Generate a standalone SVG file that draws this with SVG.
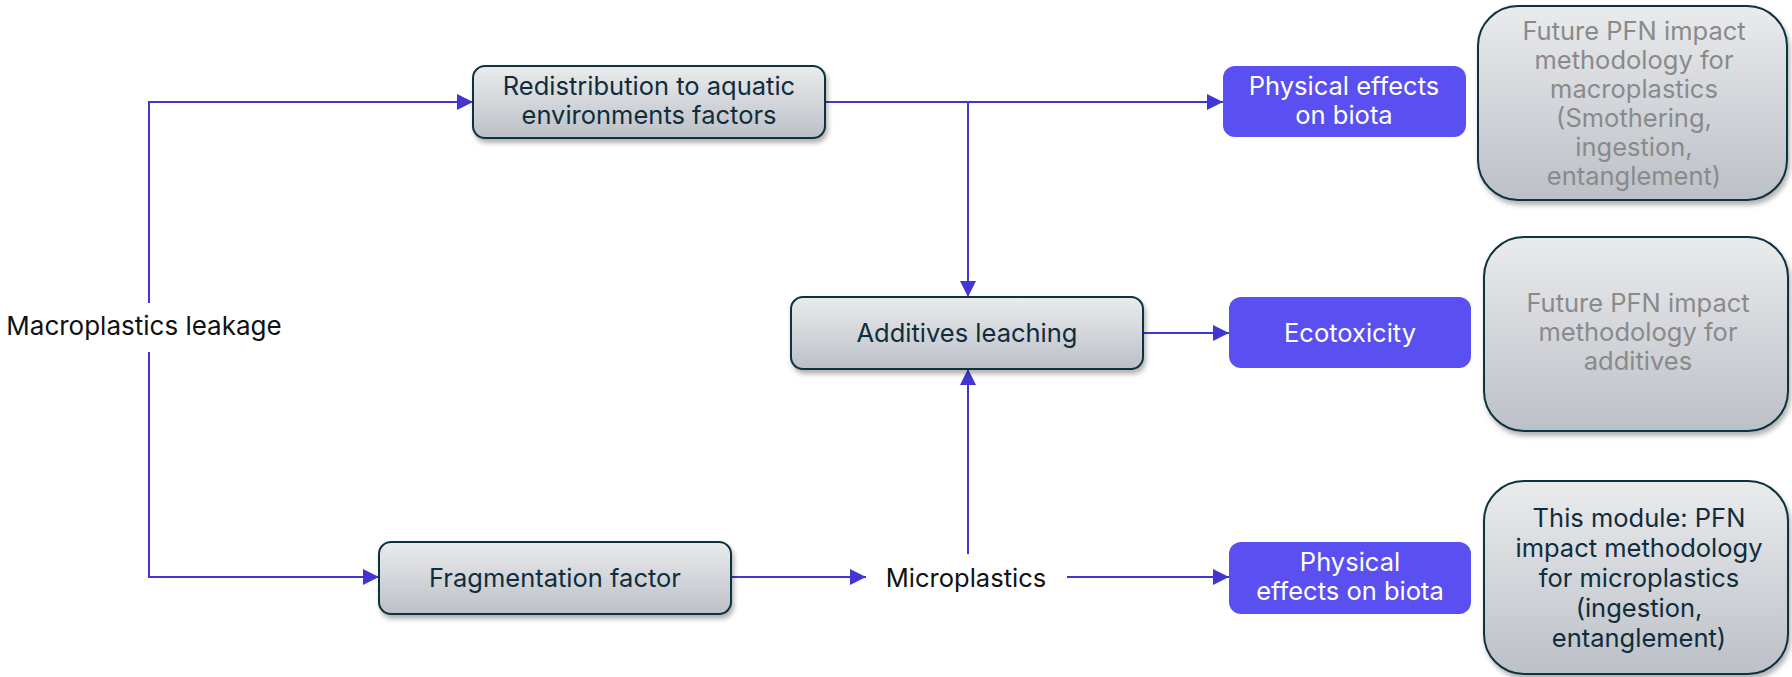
<svg xmlns="http://www.w3.org/2000/svg" width="1792" height="677" viewBox="0 0 1792 677">
<defs>
<linearGradient id="gbox" x1="0" y1="0" x2="0" y2="1">
<stop offset="0" stop-color="#eaebed"/>
<stop offset="1" stop-color="#bcc0c7"/>
</linearGradient>
<filter id="sh" x="-10%" y="-10%" width="130%" height="140%">
<feDropShadow dx="2" dy="4" stdDeviation="2.5" flood-color="#000" flood-opacity="0.3"/>
</filter>
<marker id="ah" markerUnits="userSpaceOnUse" markerWidth="16" markerHeight="16" viewBox="0 0 16 16" refX="16" refY="8" orient="auto">
<path d="M0,0 L16,8 L0,16 Z" fill="#4236d2"/>
</marker>
<style>
.box{fill:url(#gbox);stroke:#11303f;stroke-width:2;filter:url(#sh)}
.pur{fill:#5a4ff0}
.t{font-family:Inter,"Liberation Sans",sans-serif;font-size:25.5px;text-anchor:middle;fill:#0f2d3c}
.w{fill:#ffffff}
.g{fill:#8a8a8a}
.k{fill:#111111}
.c{fill:none;stroke:#4236d2;stroke-width:2;marker-end:url(#ah)}
</style>
</defs>
<g id="connectors">
<path class="c" d="M149,303 V102 H473"/>
<path class="c" d="M149,352 V577 H379"/>
<path class="c" d="M825,102 H1223"/>
<path class="c" d="M968,102 V297"/>
<path class="c" d="M1143,333 H1229"/>
<path class="c" d="M731,577 H866"/>
<path class="c" d="M1067,577 H1229"/>
<path class="c" d="M968,554 V369"/>
</g>
<g id="n-leakage">
<text class="t k" x="144" y="335" style="font-size:26px">Macroplastics leakage</text>
</g>
<g id="n-redistribution">
<rect class="box" x="473" y="66" width="352" height="72" rx="12"/>
<text class="t" x="649" y="95">Redistribution to aquatic</text>
<text class="t" x="649" y="124">environments factors</text>
</g>
<g id="n-phys1">
<rect class="pur" x="1223" y="66" width="243" height="71" rx="12"/>
<text class="t w" x="1344" y="95">Physical effects</text>
<text class="t w" x="1344" y="124">on biota</text>
</g>
<g id="n-future1">
<rect class="box" x="1478" y="6" width="309" height="194" rx="40"/>
<text class="t g" x="1634" y="40">Future PFN impact</text>
<text class="t g" x="1634" y="69">methodology for</text>
<text class="t g" x="1634" y="98">macroplastics</text>
<text class="t g" x="1634" y="127">(Smothering,</text>
<text class="t g" x="1634" y="156">ingestion,</text>
<text class="t g" x="1634" y="185">entanglement)</text>
</g>
<g id="n-additives">
<rect class="box" x="791" y="297" width="352" height="72" rx="12"/>
<text class="t" x="967" y="342">Additives leaching</text>
</g>
<g id="n-ecotox">
<rect class="pur" x="1229" y="297" width="242" height="71" rx="12"/>
<text class="t w" x="1350" y="342">Ecotoxicity</text>
</g>
<g id="n-future2">
<rect class="box" x="1484" y="237" width="304" height="194" rx="40"/>
<text class="t g" x="1638" y="312">Future PFN impact</text>
<text class="t g" x="1638" y="341">methodology for</text>
<text class="t g" x="1638" y="370">additives</text>
</g>
<g id="n-fragmentation">
<rect class="box" x="379" y="542" width="352" height="72" rx="12"/>
<text class="t" x="555" y="587">Fragmentation factor</text>
</g>
<g id="n-microplastics">
<text class="t k" x="966" y="587">Microplastics</text>
</g>
<g id="n-phys2">
<rect class="pur" x="1229" y="542" width="242" height="72" rx="12"/>
<text class="t w" x="1350" y="571">Physical</text>
<text class="t w" x="1350" y="600">effects on biota</text>
</g>
<g id="n-module">
<rect class="box" x="1484" y="481" width="304" height="193" rx="40"/>
<text class="t" x="1639" y="527">This module: PFN</text>
<text class="t" x="1639" y="557">impact methodology</text>
<text class="t" x="1639" y="587">for microplastics</text>
<text class="t" x="1639" y="617">(ingestion,</text>
<text class="t" x="1639" y="647">entanglement)</text>
</g>
</svg>
